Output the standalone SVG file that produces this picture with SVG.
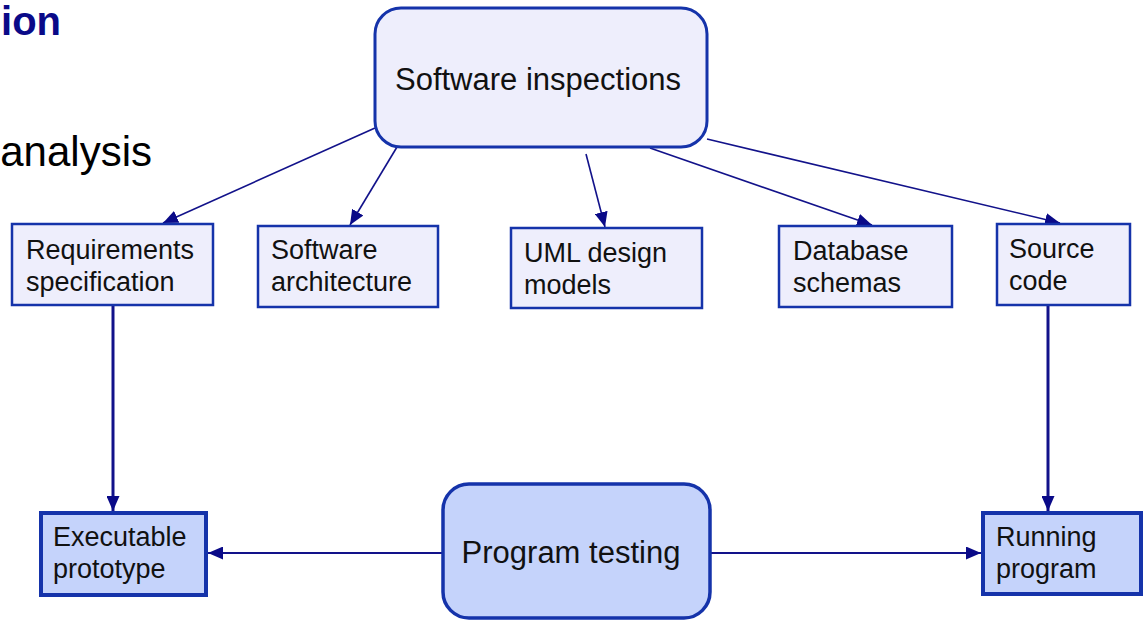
<svg xmlns="http://www.w3.org/2000/svg" width="1143" height="621" viewBox="0 0 1143 621">
<style>
text{font-family:"Liberation Sans",Arial,sans-serif;fill:#111;}
.big{font-size:31px;}
.sm{font-size:27px;}
.n1{fill:#eeeefc;stroke:#1533aa;stroke-width:2.5;}
.n2{fill:#c5d3fb;stroke:#1533aa;stroke-width:4;}
.r1{fill:#eeeefc;stroke:#1533aa;stroke-width:3;}
.r2{fill:#c5d3fb;stroke:#1533aa;stroke-width:3.5;}
.c{stroke:#12128a;fill:none;}
.thin{stroke-width:1.6;}
.mid{stroke-width:2;}
.thick{stroke-width:3;}
</style>
<defs>
<marker id="ah" viewBox="0 0 15 13" refX="15" refY="6.5" markerWidth="15" markerHeight="13" markerUnits="userSpaceOnUse" orient="auto">
<path d="M0,0 L15,6.5 L0,13 Z" fill="#0a0a88"/>
</marker>
</defs>
<g id="title-fragments">
<text x="61" y="35" text-anchor="end" style="font-size:40px;font-weight:bold;fill:#0a0a88">ion</text>
<text x="152" y="166" text-anchor="end" style="font-size:42px;fill:#000">analysis</text>
</g>
<g id="connectors">
<line class="c thin" x1="375" y1="128" x2="163" y2="223" marker-end="url(#ah)"/>
<line class="c thin" x1="397" y1="147" x2="350" y2="225" marker-end="url(#ah)"/>
<line class="c thin" x1="586" y1="154" x2="605" y2="227" marker-end="url(#ah)"/>
<line class="c thin" x1="650" y1="148" x2="872" y2="225" marker-end="url(#ah)"/>
<line class="c thin" x1="707" y1="139" x2="1060" y2="223" marker-end="url(#ah)"/>
<line class="c thick" x1="113" y1="305" x2="113" y2="511" marker-end="url(#ah)"/>
<line class="c thick" x1="1048" y1="305" x2="1048" y2="511" marker-end="url(#ah)"/>
<line class="c mid" x1="443" y1="553" x2="208" y2="553" marker-end="url(#ah)"/>
<line class="c mid" x1="710" y1="553" x2="981" y2="553" marker-end="url(#ah)"/>
</g>
<g id="software-inspections">
<rect class="r1" x="375" y="8" width="332" height="139" rx="26"/>
<text class="big" x="538" y="90" text-anchor="middle">Software inspections</text>
</g>
<g id="requirements-specification">
<rect class="n1" x="12" y="224" width="201" height="81"/>
<text class="sm" x="26" y="259">Requirements</text>
<text class="sm" x="26" y="291">specification</text>
</g>
<g id="software-architecture">
<rect class="n1" x="258" y="226" width="180" height="81"/>
<text class="sm" x="271" y="259">Software</text>
<text class="sm" x="271" y="291">architecture</text>
</g>
<g id="uml-design-models">
<rect class="n1" x="511" y="228" width="191" height="80"/>
<text class="sm" x="524" y="262">UML design</text>
<text class="sm" x="524" y="294">models</text>
</g>
<g id="database-schemas">
<rect class="n1" x="779" y="226" width="173" height="81"/>
<text class="sm" x="793" y="260">Database</text>
<text class="sm" x="793" y="292">schemas</text>
</g>
<g id="source-code">
<rect class="n1" x="997" y="224" width="133" height="81"/>
<text class="sm" x="1009" y="258">Source</text>
<text class="sm" x="1009" y="290">code</text>
</g>
<g id="executable-prototype">
<rect class="n2" x="41" y="513" width="165" height="82"/>
<text class="sm" x="53" y="546">Executable</text>
<text class="sm" x="53" y="578">prototype</text>
</g>
<g id="running-program">
<rect class="n2" x="983" y="513" width="158" height="81"/>
<text class="sm" x="996" y="546">Running</text>
<text class="sm" x="996" y="578">program</text>
</g>
<g id="program-testing">
<rect class="r2" x="443" y="484" width="267" height="134" rx="26"/>
<text class="big" x="571" y="563" text-anchor="middle">Program testing</text>
</g>
</svg>
